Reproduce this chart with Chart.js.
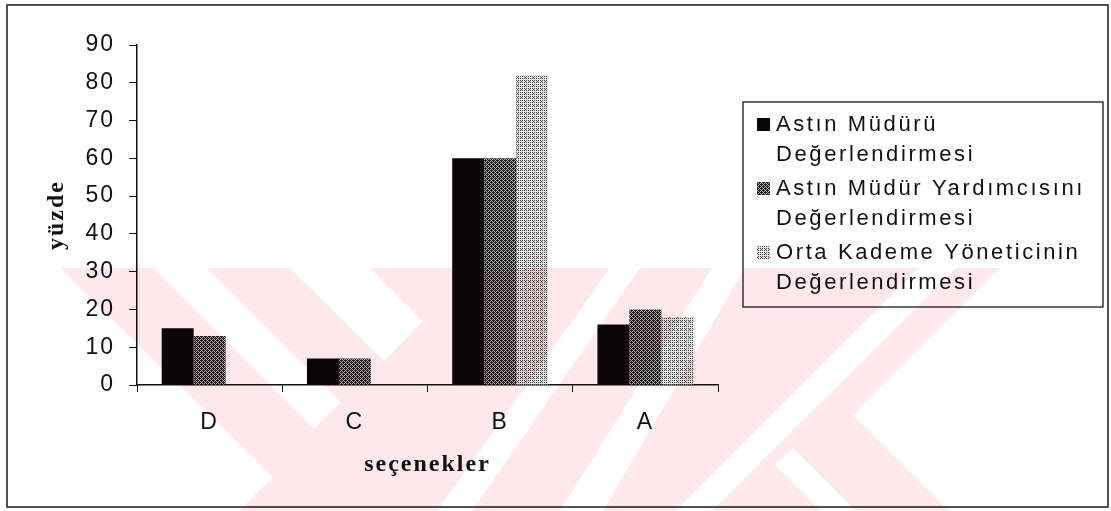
<!DOCTYPE html>
<html>
<head>
<meta charset="utf-8">
<title>seçenekler</title>
<script src="https://cdn.jsdelivr.net/npm/chart.js@4/dist/chart.umd.min.js"></script>
<style>
  html, body { margin: 0; padding: 0; background: #fff; }
  canvas { display: block; }
</style>
</head>
<body>
<canvas id="c" width="1111" height="511"></canvas>
<script>
// categories on the x axis
const categories = ['D', 'C', 'B', 'A'];

// percentages per series
const astinMuduru = [15, 7, 60, 16];
const astinMudurYardimcisi = [13, 7, 60, 20];
const ortaKademe = [0, 0, 82, 18];

// series names, one entry per legend line
const seriesNames = [
  ['Astın Müdürü', 'Değerlendirmesi'],
  ['Astın Müdür Yardımcısını', 'Değerlendirmesi'],
  ['Orta Kademe Yöneticinin', 'Değerlendirmesi']
];

// y axis range
const yMin = 0, yMax = 90, yStep = 10;

const SANS = '"Liberation Sans", Arial, sans-serif';
const SERIF = '"Liberation Serif", "Times New Roman", serif';

// stippled fill used for the grey bars (ordered dither)
function stipple(level, dark, light) {
  const bayer = [
     0, 32,  8, 40,  2, 34, 10, 42,
    48, 16, 56, 24, 50, 18, 58, 26,
    12, 44,  4, 36, 14, 46,  6, 38,
    60, 28, 52, 20, 62, 30, 54, 22,
     3, 35, 11, 43,  1, 33,  9, 41,
    51, 19, 59, 27, 49, 17, 57, 25,
    15, 47,  7, 39, 13, 45,  5, 37,
    63, 31, 55, 23, 61, 29, 53, 21
  ];
  const c = document.createElement('canvas');
  c.width = 8; c.height = 8;
  const g = c.getContext('2d');
  for (let i = 0; i < 64; i++) {
    g.fillStyle = (bayer[i] + 0.5) / 64 < level ? dark : light;
    g.fillRect(i % 8, Math.floor(i / 8), 1, 1);
  }
  return g.createPattern(c, 'repeat');
}

const fills = [
  '#0a0506',
  stipple(0.62, '#1c1c1c', '#b4b4b4'),
  stipple(0.30, '#4a4a4a', '#e2e2e2')
];

// page frame and spaced-out lettering
const framePlugin = {
  id: 'frame',
  beforeDraw(chart) {
    const ctx = chart.ctx;
    ctx.save();
    ctx.fillStyle = '#fff';
    ctx.fillRect(0, 0, chart.width, chart.height);
    ctx.strokeStyle = '#1a1a1a';
    ctx.lineWidth = 1.5;
    ctx.strokeRect(7, 5, 1101, 502);
    ctx.restore();
    ctx.letterSpacing = '2px';
  },
  afterDraw(chart) {
    chart.ctx.letterSpacing = '0px';
  }
};

// boxed legend with wrapped series names
const boxLegend = {
  id: 'boxLegend',
  afterDraw(chart) {
    const ctx = chart.ctx;
    const box = { x: 743, y: 102, w: 360, h: 205 };
    ctx.save();
    ctx.fillStyle = '#fff';
    ctx.fillRect(box.x, box.y, box.w, box.h);
    ctx.strokeStyle = '#1a1a1a';
    ctx.lineWidth = 1.3;
    ctx.strokeRect(box.x, box.y, box.w, box.h);
    ctx.font = '22px ' + SANS;
    ctx.letterSpacing = '2.6px';
    ctx.fillStyle = '#111';
    ctx.textBaseline = 'middle';
    ctx.textAlign = 'left';
    const itemTop = [124, 188, 252];
    chart.data.datasets.forEach((ds, i) => {
      const y0 = itemTop[i];
      ctx.fillStyle = ds.backgroundColor;
      ctx.fillRect(757, y0 - 6, 13, 13);
      ctx.fillStyle = '#111';
      ds.label.forEach((line, k) => {
        ctx.fillText(line, 776, y0 + 1 + k * 30);
      });
    });
    ctx.restore();
  }
};

// faint pink mark printed over the lower part of the page
const markPlugin = {
  id: 'mark',
  afterDraw(chart) {
    const off = document.createElement('canvas');
    off.width = chart.width; off.height = chart.height;
    const g = off.getContext('2d');
    const poly = (pts) => {
      g.beginPath();
      g.moveTo(pts[0][0], pts[0][1]);
      for (let i = 1; i < pts.length; i++) g.lineTo(pts[i][0], pts[i][1]);
      g.closePath();
      g.fill();
    };
    g.fillStyle = 'rgb(253,232,237)';
    poly([[60, 268], [1000, 268], [853, 415], [949, 511], [239, 511], [273, 477]]);
    g.globalCompositeOperation = 'destination-out';
    g.fillStyle = '#000';
    poly([[153, 268], [207, 268], [341, 402], [314, 429]]);
    poly([[290, 268], [370, 268], [423, 321], [384, 361]]);
    poly([[610, 268], [640, 268], [472, 511], [437, 511]]);
    poly([[712, 268], [745, 268], [603, 511], [560, 511]]);
    poly([[919, 268], [956, 268], [712, 511], [676, 511]]);
    poly([[775, 465], [793, 448], [856, 511], [821, 511]]);
    const ctx = chart.ctx;
    ctx.save();
    ctx.globalCompositeOperation = 'multiply';
    ctx.drawImage(off, 0, 0);
    ctx.restore();
  }
};

new Chart(document.getElementById('c'), {
  type: 'bar',
  data: {
    labels: categories,
    datasets: [
      { label: seriesNames[0], data: astinMuduru, backgroundColor: fills[0] },
      { label: seriesNames[1], data: astinMudurYardimcisi, backgroundColor: fills[1] },
      { label: seriesNames[2], data: ortaKademe, backgroundColor: fills[2] }
    ]
  },
  options: {
    responsive: false,
    animation: false,
    devicePixelRatio: 1,
    layout: { padding: { left: 40, right: 393, top: 45, bottom: 32 } },
    datasets: { bar: { categoryPercentage: 0.66, barPercentage: 1.0, borderWidth: 0 } },
    plugins: { legend: { display: false }, tooltip: { enabled: false } },
    scales: {
      x: {
        grid: { drawOnChartArea: false, drawTicks: true, tickLength: 7, color: '#111', offset: true },
        border: { display: true, color: '#111', width: 1.5 },
        ticks: { color: '#111', font: { family: SANS, size: 23 }, padding: 17 },
        title: {
          display: true, text: 'seçenekler', color: '#111',
          font: { family: SERIF, size: 24, weight: 'bold' },
          padding: { top: 0, bottom: 0 }
        },
        afterFit(scale) { scale.height = 94; }
      },
      y: {
        min: yMin, max: yMax,
        grid: { drawOnChartArea: false, drawTicks: true, tickLength: 8, color: '#111' },
        border: { display: true, color: '#111', width: 1.5 },
        ticks: { stepSize: yStep, color: '#111', font: { family: SANS, size: 23 }, padding: 14 },
        title: {
          display: true, text: 'yüzde', color: '#111',
          font: { family: SERIF, size: 24, weight: 'bold' },
          padding: { top: 2, bottom: 0 }
        },
        afterFit(scale) { scale.width = 97; }
      }
    }
  },
  plugins: [framePlugin, boxLegend, markPlugin]
});
</script>
</body>
</html>
